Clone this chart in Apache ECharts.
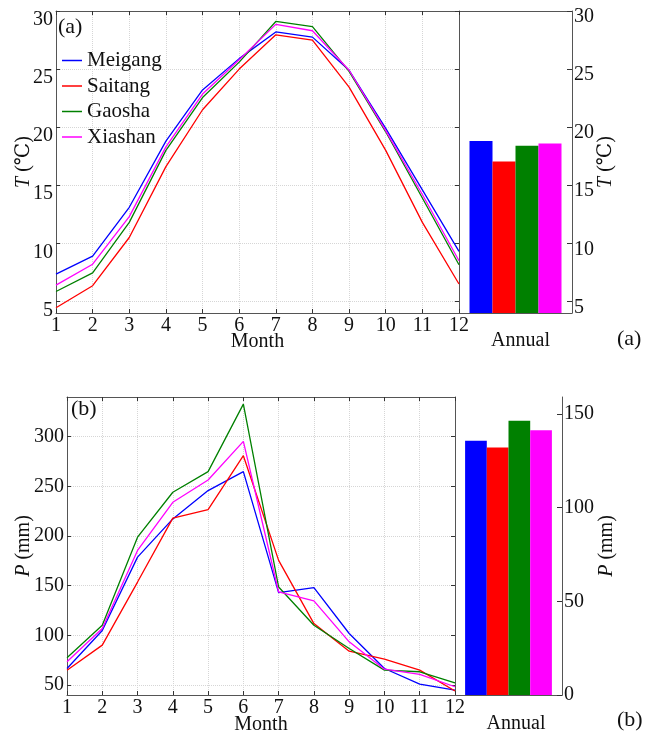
<!DOCTYPE html>
<html>
<head>
<meta charset="utf-8">
<script src="https://cdn.jsdelivr.net/npm/echarts@6/dist/echarts.min.js"></script>
<style>
  html, body { margin: 0; padding: 0; background: #fff; }
  #chart { width: 646px; height: 736px; }
</style>
</head>
<body>
<div id="chart"></div>
<script>
    // 数据
    var months = [1, 2, 3, 4, 5, 6, 7, 8, 9, 10, 11, 12];
    var stations = ['Meigang', 'Saitang', 'Gaosha', 'Xiashan'];
    var colors = ['#0000ff', '#ff0000', '#008000', '#ff00ff'];

    // 月平均气温 T (℃)
    var tempMeigang = [7.35, 8.9, 13.1, 18.8, 23.2, 25.9, 28.2, 27.75, 24.9, 19.9, 14.6, 9.3];
    var tempSaitang = [4.45, 6.35, 10.5, 16.6, 21.5, 25.0, 27.95, 27.5, 23.45, 18.0, 11.8, 6.5];
    var tempGaosha = [5.85, 7.45, 11.8, 18.0, 22.55, 25.6, 29.1, 28.65, 24.8, 19.6, 13.9, 8.15];
    var tempXiashan = [6.4, 8.2, 12.3, 18.3, 22.85, 25.8, 28.85, 28.3, 24.9, 19.7, 14.2, 8.5];

    // 月降水 P (mm)
    var precMeigang = [66.7, 105, 178.8, 217.3, 245.8, 264.9, 143, 148, 101.9, 66.7, 51, 45];
    var precSaitang = [65, 90.2, 153.7, 218, 226.7, 280.9, 175.5, 111.9, 84.1, 76.1, 65, 44];
    var precGaosha = [77.4, 110.2, 198.9, 244.1, 264.9, 332.8, 148.7, 110.2, 86.8, 65, 63.4, 52.3];
    var precXiashan = [73.4, 106.9, 185.5, 234, 256.5, 295.3, 143.7, 134.7, 93.5, 66, 60.7, 48.3];

    // 年均值
    var annualT = [18.8, 17.05, 18.4, 18.6];
    var annualP = [135.6, 132, 146.3, 141.3];

    // 刻度
    var tTicks = [5, 10, 15, 20, 25, 30];
    var pTicks = [50, 100, 150, 200, 250, 300];
    var pAnnualTicks = [0, 50, 100, 150];
    var annualCat = ['Annual'];

    var tempAll = [tempMeigang, tempSaitang, tempGaosha, tempXiashan];
    var precAll = [precMeigang, precSaitang, precGaosha, precXiashan];

    var font = "'Liberation Serif', 'Times New Roman', 'DejaVu Serif', serif";
    var axisColor = '#555';
    var textColor = '#111';

    function pairs(vals) {
        var out = [];
        for (var i = 0; i < months.length; i++) {
            out.push([months[i], vals[i]]);
        }
        return out;
    }

    // 月份坐标轴 (底部)
    function monthAxis(grid, nameGap) {
        return {
            gridIndex: grid, type: 'value', position: 'bottom',
            min: 1, max: 12, interval: 1,
            name: 'Month', nameLocation: 'middle', nameGap: nameGap, nameMoveOverlap: false,
            nameTextStyle: { fontFamily: font, fontSize: 20, color: textColor },
            axisLine: { lineStyle: { color: axisColor } },
            axisTick: { inside: true, length: 4, lineStyle: { color: '#333' } },
            axisLabel: { fontFamily: font, fontSize: 20, color: textColor, margin: 3 },
            splitLine: { show: true, lineStyle: { color: '#d6d6d6', type: 'dotted' } }
        };
    }
    // 顶部边框
    function boxTopMonth(grid) {
        return {
            gridIndex: grid, type: 'value', position: 'top',
            min: 1, max: 12, interval: 1,
            axisLine: { lineStyle: { color: axisColor } },
            axisTick: { inside: true, length: 4, lineStyle: { color: '#333' } },
            axisLabel: { show: false },
            splitLine: { show: false }
        };
    }
    function annualAxis(grid, padLeft, margin) {
        return {
            gridIndex: grid, type: 'category', position: 'bottom', data: annualCat,
            axisLine: { lineStyle: { color: axisColor } },
            axisTick: { show: false },
            axisLabel: { fontFamily: font, fontSize: 20, color: textColor, margin: margin, padding: [0, 0, 0, padLeft] }
        };
    }
    function boxTopAnnual(grid) {
        return {
            gridIndex: grid, type: 'category', position: 'top', data: annualCat,
            axisLine: { lineStyle: { color: axisColor } },
            axisTick: { show: false },
            axisLabel: { show: false }
        };
    }
    function valueAxis(grid, pos, min, max, ticks, opts) {
        var label = { show: !!opts.label, customValues: ticks, fontFamily: font, fontSize: 20, color: textColor,
            margin: opts.margin || 3 };
        if (opts.shift) {
            // 标签整体下移
            label.verticalAlign = 'top';
            label.lineHeight = opts.shift * 2;
        }
        var ax = {
            gridIndex: grid, type: 'value', position: pos, min: min, max: max,
            axisLine: { show: opts.line !== false, lineStyle: { color: axisColor } },
            axisTick: { show: ticks.length > 0, inside: true, length: opts.tickLen || 4, customValues: ticks, lineStyle: { color: '#333' } },
            axisLabel: label,
            splitLine: { show: !!opts.split, lineStyle: { color: '#d6d6d6', type: 'dotted' } }
        };
        if (opts.name) {
            ax.name = opts.name;
            ax.nameLocation = 'middle';
            ax.nameGap = opts.nameGap;
            ax.nameMoveOverlap = false;
            ax.nameTextStyle = {
                fontFamily: font, fontSize: 20, color: textColor,
                rich: { i: { fontFamily: font, fontSize: 20, fontStyle: 'italic', color: textColor } }
            };
        }
        return ax;
    }

    var series = [];
    // 气温折线
    for (var i = 0; i < stations.length; i++) {
        series.push({
            name: stations[i], type: 'line', xAxisIndex: 0, yAxisIndex: 0,
            data: pairs(tempAll[i]), symbol: 'none',
            lineStyle: { color: colors[i], width: 1.3 }, itemStyle: { color: colors[i] }
        });
    }
    // 降水折线
    for (var i = 0; i < stations.length; i++) {
        series.push({
            name: stations[i], type: 'line', xAxisIndex: 4, yAxisIndex: 4,
            data: pairs(precAll[i]), symbol: 'none',
            lineStyle: { color: colors[i], width: 1.3 }, itemStyle: { color: colors[i] }
        });
    }
    // 年均柱状
    for (var i = 0; i < stations.length; i++) {
        series.push({
            name: stations[i], type: 'bar', xAxisIndex: 2, yAxisIndex: 2,
            data: [annualT[i]], barWidth: 23, barGap: '0%',
            itemStyle: { color: colors[i] }
        });
        series.push({
            name: stations[i], type: 'bar', xAxisIndex: 6, yAxisIndex: 6,
            data: [annualP[i]], barWidth: 21.7, barGap: '0%',
            itemStyle: { color: colors[i] }
        });
    }

    // 图例 (细线)
    var legendData = [];
    for (var i = 0; i < stations.length; i++) {
        legendData.push({ name: stations[i], icon: 'rect', itemStyle: { color: colors[i] } });
    }

    var chart = echarts.init(document.getElementById('chart'));
    var option = {
        animation: false,
        backgroundColor: '#fff',
        grid: [
            { left: 56, top: 11, width: 403, height: 302 },
            { left: 459, top: 11, width: 113, height: 302 },
            { left: 67, top: 397, width: 388, height: 298 },
            { left: 455, top: 397, width: 107, height: 298 }
        ],
        legend: {
            data: legendData, orient: 'vertical', left: 62, top: 50, padding: 0,
            itemWidth: 20, itemHeight: 1.5, itemGap: 4.5,
            textStyle: { fontFamily: font, fontSize: 21, color: textColor, lineHeight: 21 }
        },
        xAxis: [
            monthAxis(0, 19), boxTopMonth(0),
            annualAxis(1, 10, 18), boxTopAnnual(1),
            monthAxis(2, 20), boxTopMonth(2),
            annualAxis(3, 15, 19), boxTopAnnual(3)
        ],
        yAxis: [
            valueAxis(0, 'left', 4, 30, tTicks, { label: true, split: true, shift: 9, name: '{i|T} (℃)', nameGap: 22 }),
            valueAxis(0, 'right', 4, 30, tTicks, {}),
            valueAxis(1, 'right', 4, 30, tTicks, { label: true, shift: 6, margin: 2, tickLen: 5, name: '{i|T} (℃)', nameGap: 24 }),
            valueAxis(1, 'left', 4, 30, [], { line: false }),
            valueAxis(2, 'left', 40, 340, pTicks, { label: true, split: true, name: '{i|P} (mm)', nameGap: 33 }),
            valueAxis(2, 'right', 40, 340, pTicks, {}),
            valueAxis(3, 'right', 0, 159, pAnnualTicks, { label: true, margin: 2, tickLen: 5, name: '{i|P} (mm)', nameGap: 35 }),
            valueAxis(3, 'left', 0, 159, [], { line: false })
        ],
        graphic: [
            { type: 'text', left: 58, top: 16, style: { text: '(a)', font: '22px ' + font, fill: textColor } },
            { type: 'text', left: 71, top: 398, style: { text: '(b)', font: '22px ' + font, fill: textColor } },
            { type: 'text', left: 617, top: 328, style: { text: '(a)', font: '22px ' + font, fill: textColor } },
            { type: 'text', left: 617, top: 709, style: { text: '(b)', font: '22px ' + font, fill: textColor } }
        ],
        series: series
    };
    chart.setOption(option);
</script>
</body>
</html>
